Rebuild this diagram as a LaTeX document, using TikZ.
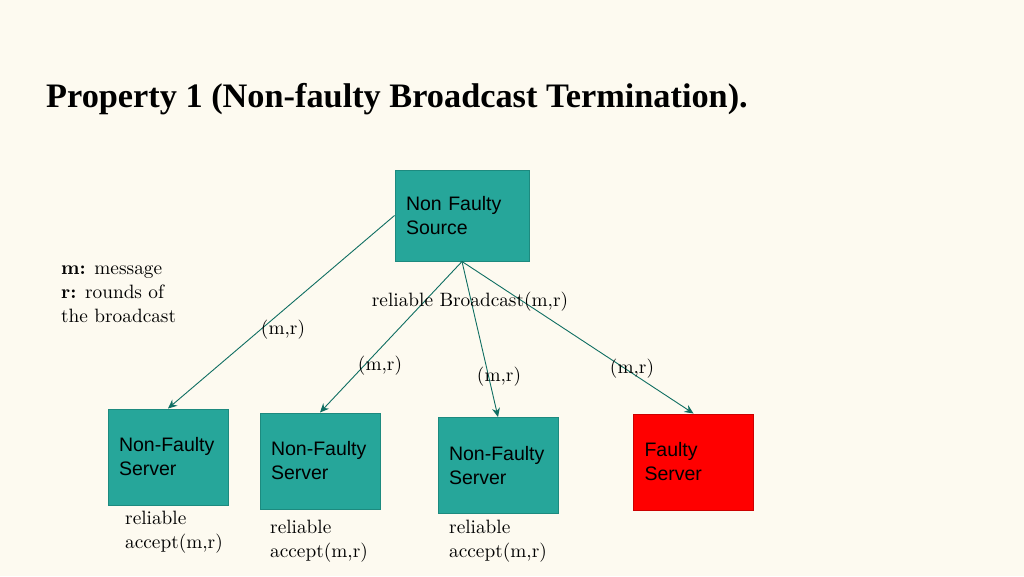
\documentclass[tikz,border=0pt]{standalone}
\usepackage{fontspec}
\newfontfamily\titlefont{Liberation Serif}
\newfontfamily\boxfont{Liberation Sans}
\newfontfamily\cmten{lmroman10-regular}[Extension=.otf, BoldFont=lmroman10-bold]
\usetikzlibrary{arrows.meta}
\definecolor{bgc}{HTML}{FDFAF0}
\definecolor{tealfill}{HTML}{26A69A}
\definecolor{tealedge}{HTML}{1D8A7F}
\definecolor{arrc}{HTML}{0F6E62}
\tikzset{
  boxnode/.style={draw=tealedge, line width=1pt, fill=tealfill, rectangle, inner sep=0pt,
    minimum width=#1, text width=#1-22pt, align=left,
    font=\boxfont\fontsize{19.5}{24}\selectfont},
  srvbox/.style={boxnode=120pt, minimum height=96pt},
  faultbox/.style={srvbox, fill=red, draw=red!80!black},
  lbl/.style={inner sep=0pt, anchor=north west, align=left, font=\cmten\fontsize{19.3}{24}\selectfont},
  mlbl/.style={inner sep=0pt, anchor=base, font=\cmten\fontsize{19.3}{24}\selectfont},
  arr/.style={draw=arrc, line width=0.9pt, -{Stealth[length=9pt,width=8pt]}}
}
\begin{document}
\begin{tikzpicture}[x=1pt,y=-1pt]
\fill[bgc] (0,0) rectangle (1024,576);
\useasboundingbox (0,0) rectangle (1024,576);

\node[inner sep=0pt, anchor=base west, font=\titlefont\bfseries\fontsize{34.3}{40}\selectfont] (title) at (46,107) {Property 1 (Non-faulty Broadcast Termination).};

\node[boxnode=134pt, minimum height=91pt] (src) at (462,215.5) {Non Faulty\\Source};

\node[srvbox] (s1) at (168,457) {Non-Faulty\\Server};
\node[srvbox] (s2) at (320,461) {Non-Faulty\\Server};
\node[srvbox] (s3) at (498,465.5) {Non-Faulty\\Server};
\node[faultbox] (f) at (693.5,462) {Faulty\\Server};

\node[lbl] (legend) at (61,257.2) {\strut\textbf{m:} message\\\textbf{r:} rounds of\\the broadcast};

\draw[arr] (src.west) -- (s1.north);
\draw[arr] (src.south) -- (s2.north);
\draw[arr] (src.south) -- (s3.north);
\draw[arr] (src.south) -- (f.north);

\node[mlbl] (rb) at (470,306) {reliable Broadcast(m,r)};
\node[mlbl] (l1) at (283,334) {(m,r)};
\node[mlbl] (l2) at (380,370) {(m,r)};
\node[mlbl] (l3) at (499,381) {(m,r)};
\node[mlbl] (l4) at (632,373) {(m,r)};

\node[lbl] (a1) at (125,507.2) {\strut reliable\\accept(m,r)};
\node[lbl] (a2) at (270,516.2) {\strut reliable\\accept(m,r)};
\node[lbl] (a3) at (449,516.2) {\strut reliable\\accept(m,r)};
\end{tikzpicture}
\end{document}
